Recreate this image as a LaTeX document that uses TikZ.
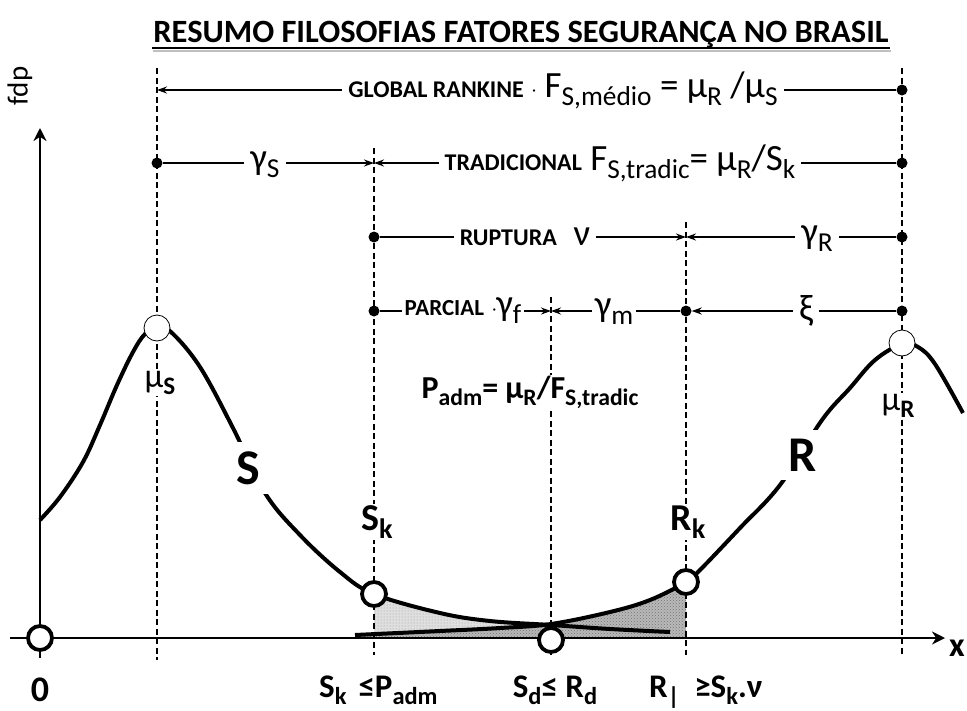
\documentclass[tikz,border=0pt]{standalone}
\usepackage{fontspec}
\usepackage{graphicx}
\setmainfont{Carlito}
\usetikzlibrary{arrows.meta,patterns}
\newcommand{\dn}[1]{\raisebox{-0.22em}{\scalebox{0.74}{#1}}}
\newcommand{\mdot}{\raisebox{1.5pt}{\fontsize{16}{18}\selectfont·}}

\begin{document}
\begin{tikzpicture}[x=1pt,y=-1pt,
  every node/.style={inner sep=1pt},
  guide/.style={line width=1.8pt, dash pattern=on 6pt off 3.5pt},
  axisline/.style={line width=2.4pt},
  dimline/.style={line width=1.8pt},
  dimarrow/.style={dimline, -{Stealth[length=10pt,width=7pt]}},
  blob/.style={circle, fill=black, inner sep=0pt, minimum size=11pt},
  ring/.style={circle, draw, fill=white, line width=3.8pt, minimum size=24pt, inner sep=0pt},
  peak/.style={circle, draw, fill=white, line width=0.8pt, minimum size=26pt, inner sep=0pt},
  curve/.style={line width=4pt, line join=round},
  cover/.style={fill=white, inner xsep=6pt, inner ysep=1pt},
  symfont/.style={font=\fontsize{37}{40}\selectfont},
  boldfont/.style={font=\fontsize{33}{36}\selectfont\bfseries},
]
\useasboundingbox (0,0) rectangle (967,710);

\node[font=\fontsize{32.5}{36}\selectfont\bfseries, anchor=base] (title) at (521,42) {RESUMO FILOSOFIAS FATORES SEGURANÇA NO BRASIL};
\draw[gray!50, line width=2pt] ([shift={(1pt,-9pt)}]title.base west) -- ([shift={(1pt,-9pt)}]title.base east);
\draw[line width=2.2pt] ([yshift=-6pt]title.base west) -- ([yshift=-6pt]title.base east);

\fill[pattern=dots, pattern color=gray!80, preaction={fill=gray!25}]
  plot[smooth, tension=0.6] coordinates {(374,594) (440,613) (490,621) (551,625) (610,629) (670,632)}
  -- (670,638) -- (374,638) -- cycle;
\fill[pattern=crosshatch dots, pattern color=gray!90!black, preaction={fill=gray!55}]
  plot[smooth, tension=0.6] coordinates {(355,635) (440,631) (500,628) (551,624) (610,612) (650,600) (686,582)}
  -- (686,638) -- (355,638) -- cycle;

\draw[curve] plot[smooth, tension=0.6] coordinates {(40,520) (60,497) (83,462) (100,425) (117,385) (133,352) (145,334) (157,328) (171,332) (200,367) (233,428) (265,493) (300,535) (340,572) (374,594) (440,613) (490,621) (551,625) (610,629) (670,632)};
\draw[curve] plot[smooth, tension=0.6] coordinates {(355,635) (440,631) (500,628) (551,624) (610,612) (650,600) (686,582) (700,570) (740,528) (780,485) (822,420) (850,388) (875,360) (902,344) (918,347) (935,364) (963,413)};

\coordinate (ms-top) at (157,68);  \coordinate (ms-bot) at (157,660);
\coordinate (sk-top) at (374,148); \coordinate (sk-bot) at (374,655);
\coordinate (sd-top) at (551,297); \coordinate (sd-bot) at (551,655);
\coordinate (rk-top) at (686,222); \coordinate (rk-bot) at (686,655);
\coordinate (mr-top) at (902,68);  \coordinate (mr-bot) at (902,655);
\draw[guide] (ms-top) -- (ms-bot);
\draw[guide] (sk-top) -- (sk-bot);
\draw[guide] (sd-top) -- (sd-bot);
\draw[guide] (rk-top) -- (rk-bot);
\draw[guide] (mr-top) -- (mr-bot);

\coordinate (x-start) at (10,638); \coordinate (x-end) at (945,638);
\coordinate (y-start) at (40,658); \coordinate (y-end) at (40,128);
\draw[axisline, -{Stealth[length=13pt,width=13pt]}] (x-start) -- (x-end);
\draw[axisline, -{Stealth[length=13pt,width=13pt]}] (y-start) -- (y-end);
\node[font=\fontsize{34}{38}\selectfont\bfseries, anchor=west, inner sep=0pt] (xlab) at (949,648) {x};
\node[font=\fontsize{29}{32}\selectfont, rotate=90] (ylab) at (20,86) {fdp};

\coordinate (gl-l) at (157,90);
\node[blob] (gl-r) at (902,90) {};
\draw[dimarrow] (gl-r) -- (gl-l);
\node[cover, symfont] (gl-lab) at (563,90) {{\fontsize{24}{26}\selectfont\bfseries GLOBAL RANKINE} \mdot{} F\dn{S,médio} = μ\dn{R} /μ\dn{S}};

\node[blob] (tr-l) at (157,163) {};
\coordinate (tr-m) at (374,163);
\node[blob] (tr-r) at (902,163) {};
\draw[dimarrow] (tr-l) -- (tr-m);
\draw[dimarrow] (tr-r) -- (tr-m);
\node[cover, symfont] (gs-lab) at (265,165) {γ\dn{S}};
\node[cover, symfont] (tr-lab) at (620,163) {{\fontsize{24}{26}\selectfont\bfseries TRADICIONAL} F\dn{S,tradic}= μ\dn{R}/S\dn{k}};

\node[blob] (ru-l) at (374,237) {};
\coordinate (ru-m) at (686,237);
\node[blob] (ru-r) at (902,237) {};
\draw[dimarrow] (ru-l) -- (ru-m);
\draw[dimarrow] (ru-r) -- (ru-m);
\node[cover, symfont] (ru-lab) at (525,237) {{\fontsize{24}{26}\selectfont\bfseries RUPTURA}\ \ ν};
\node[cover, symfont] (gr-lab) at (817,239) {γ\dn{R}};

\node[blob] (pa-l) at (374,311) {};
\coordinate (pa-m) at (551,311);
\node[blob] (pa-k) at (686,311) {};
\node[blob] (pa-r) at (902,311) {};
\draw[dimarrow] (pa-l) -- (pa-m);
\draw[dimarrow] (pa-k) -- (pa-m);
\draw[dimarrow] (pa-r) -- (pa-k);
\node[cover, symfont, inner xsep=3pt] (pa-lab) at (463,311) {{\fontsize{23}{26}\selectfont\bfseries PARCIAL} \mdot γ\dn{f}};
\node[cover, symfont, inner xsep=3pt] (gm-lab) at (614,312) {γ\dn{m}};
\node[cover, symfont] (xi-lab) at (806,311) {ξ};

\node[ring] (orig) at (40,638) {};
\node[ring] (sk) at (374,594) {};
\node[ring] (sd) at (551,640) {};
\node[ring] (rk) at (686,582) {};
\node[peak] (ms) at (157,328) {};
\node[peak] (mr) at (902,343) {};

\node[cover, font=\fontsize{34}{36}\selectfont] (ms-lab) at (160,383) {μ\dn{\bfseries S}};
\node[cover, font=\fontsize{34}{36}\selectfont] (mr-lab) at (898,406) {μ\dn{\bfseries R}};
\node[cover, font=\fontsize{38}{40}\selectfont\bfseries] (sk-lab) at (377,522) {S\dn{k}};
\node[cover, font=\fontsize{38}{40}\selectfont\bfseries] (rk-lab) at (688,522) {R\dn{k}};
\node[cover, font=\fontsize{32}{36}\selectfont\bfseries] (pad-lab) at (530,392) {P\dn{adm}= μ\dn{R}/F\dn{S,tradic}};
\node[cover, inner sep=9pt, font=\fontsize{50}{54}\selectfont\bfseries] (s-lab) at (248,468) {S};
\node[cover, inner sep=9pt, font=\fontsize{50}{54}\selectfont\bfseries] (r-lab) at (803,455) {R};

\node[font=\fontsize{36}{40}\selectfont\bfseries] (zero) at (40,690) {0};
\node[boldfont, anchor=base west] (b1) at (318,697) {S\dn{k}\hspace{12pt}≤P\dn{adm}};
\node[boldfont, anchor=base] (b2) at (555,697) {S\dn{d}≤ R\dn{d}};
\node[boldfont, anchor=base west] (b3) at (648,697) {R\dn{|}\ \ ≥S\dn{k}.ν};
\end{tikzpicture}
\end{document}
